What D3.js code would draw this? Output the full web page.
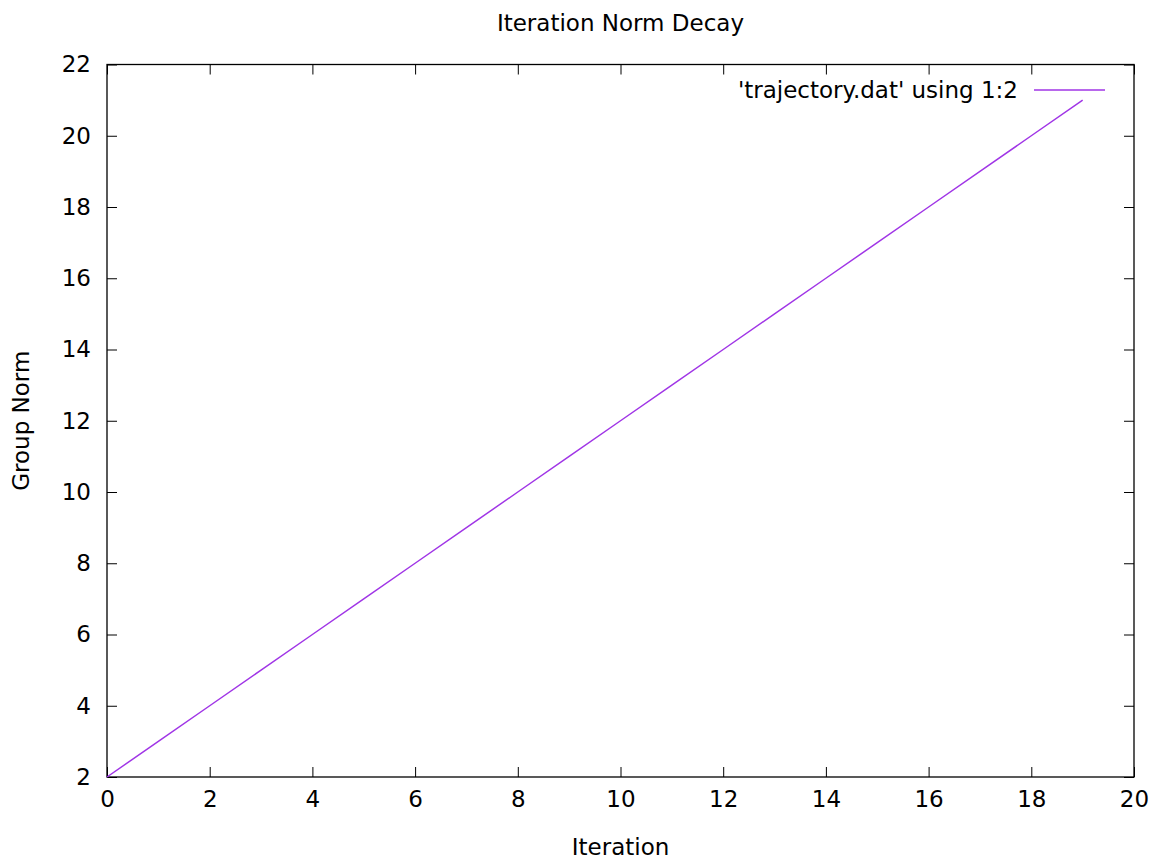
<!DOCTYPE html>
<html>
<head>
<meta charset="utf-8">
<script src="https://cdn.jsdelivr.net/npm/d3@7"></script>
<style>
  body { margin: 0; background: #fff; }
  text { font-family: "DejaVu Sans", sans-serif; fill: #000; }
</style>
</head>
<body>
<svg id="chart" width="1159" height="859"></svg>
<script>
// values
const iterations = [0, 1, 2, 3, 4, 5, 6, 7, 8, 9, 10, 11, 12, 13, 14, 15, 16, 17, 18, 19];
const groupNorm  = [2, 3, 4, 5, 6, 7, 8, 9, 10, 11, 12, 13, 14, 15, 16, 17, 18, 19, 20, 21];
const xTicks = [0, 2, 4, 6, 8, 10, 12, 14, 16, 18, 20];
const yTicks = [2, 4, 6, 8, 10, 12, 14, 16, 18, 20, 22];
const seriesName = "'trajectory.dat' using 1:2";

const margin = { top: 64.5, right: 25, bottom: 82, left: 107 };
const W = 1159, H = 859;
const width = W - margin.left - margin.right;
const height = H - margin.top - margin.bottom;
const fontSize = 23;
const tickLen = 10;
const lineColour = '#a035e6';

const svg = d3.select('#chart');
const chart = svg.append('g')
    .attr('transform', `translate(${margin.left},${margin.top})`);

const x = d3.scaleLinear().domain([0, 20]).range([0, width]);
const y = d3.scaleLinear().domain([2, 22]).range([height, 0]);

// gnuplot style: ticks inward on all four sides
function styleAxis(g) {
    g.select('.domain').remove();
    g.selectAll('line').attr('stroke', '#000').attr('stroke-width', 1);
    g.selectAll('text').attr('font-size', fontSize).attr('font-family', '"DejaVu Sans", sans-serif');
}

chart.append('g')
    .attr('transform', `translate(0,${height})`)
    .call(d3.axisBottom(x).tickValues(xTicks).tickSizeInner(-tickLen).tickSizeOuter(0).tickPadding(14))
    .call(styleAxis);
chart.append('g')
    .call(d3.axisTop(x).tickValues(xTicks).tickSizeInner(-tickLen).tickSizeOuter(0))
    .call(styleAxis)
    .selectAll('text').remove();
chart.append('g')
    .call(d3.axisLeft(y).tickValues(yTicks).tickSizeInner(-tickLen).tickSizeOuter(0).tickPadding(16))
    .call(styleAxis);
chart.append('g')
    .attr('transform', `translate(${width},0)`)
    .call(d3.axisRight(y).tickValues(yTicks).tickSizeInner(-tickLen).tickSizeOuter(0))
    .call(styleAxis)
    .selectAll('text').remove();

// frame
chart.append('rect')
    .attr('width', width).attr('height', height)
    .attr('fill', 'none').attr('stroke', '#000').attr('stroke-width', 1.3);

// data line
const data = iterations.map((d, i) => ({ it: d, v: groupNorm[i] }));
chart.append('path')
    .datum(data)
    .attr('fill', 'none')
    .attr('stroke', lineColour)
    .attr('stroke-width', 1.5)
    .attr('d', d3.line().x(d => x(d.it)).y(d => y(d.v)));

// legend
chart.append('text')
    .attr('x', width - 116).attr('y', 90 - margin.top)
    .attr('dy', '0.35em')
    .attr('text-anchor', 'end')
    .attr('font-size', fontSize)
    .text(seriesName);
chart.append('line')
    .attr('x1', width - 100).attr('x2', width - 29)
    .attr('y1', 90 - margin.top).attr('y2', 90 - margin.top)
    .attr('stroke', lineColour).attr('stroke-width', 1.5);

// titles
svg.append('text')
    .attr('x', margin.left + width / 2).attr('y', 31)
    .attr('text-anchor', 'middle')
    .attr('font-size', fontSize)
    .text('Iteration Norm Decay');
svg.append('text')
    .attr('x', margin.left + width / 2).attr('y', 855)
    .attr('text-anchor', 'middle')
    .attr('font-size', fontSize)
    .text('Iteration');
svg.append('text')
    .attr('transform', `translate(29,${margin.top + height / 2}) rotate(-90)`)
    .attr('text-anchor', 'middle')
    .attr('font-size', fontSize)
    .text('Group Norm');
</script>
</body>
</html>
